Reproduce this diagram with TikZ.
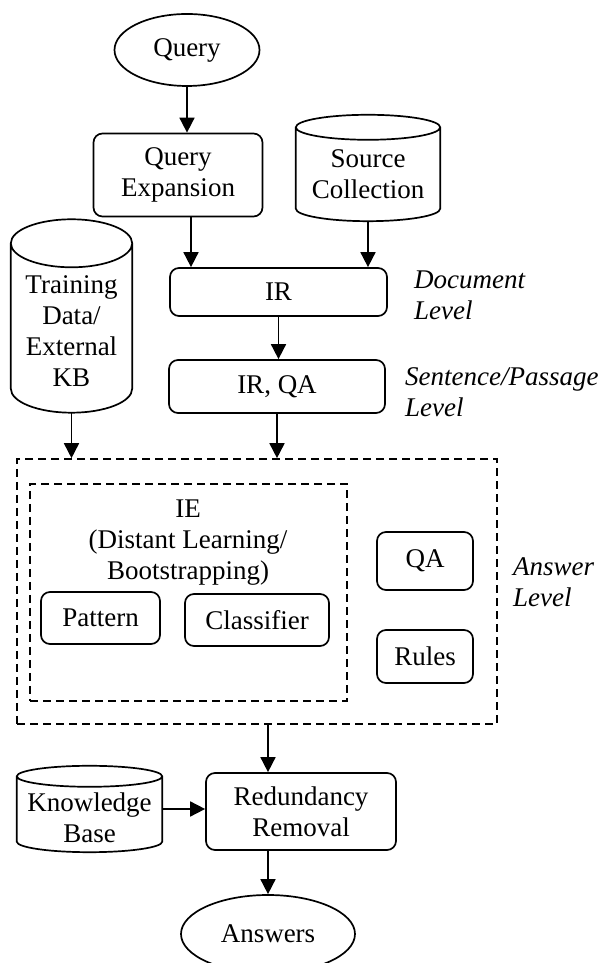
\documentclass[tikz,border=0pt]{standalone}
\usepackage{fontspec}
\setmainfont{Liberation Serif}
\usepackage{tikz}
\usetikzlibrary{arrows.meta,calc,shapes.geometric}

% outline of a data store round a named node: #1 node, #2 cap radius
\newcommand{\drawstore}[2]{%
  \draw[line width=1.7pt] let \p1=(#1.north west), \p2=(#1.south east), \n1={(\x2-\x1)/2} in
    ([yshift=-#2pt]#1.north) ellipse [x radius=\n1, y radius=#2pt]
    ([yshift=-#2pt]#1.north west) -- ([yshift=#2pt]#1.south west)
    arc [start angle=180, end angle=360, x radius=\n1, y radius=#2pt]
    -- ([yshift=-#2pt]#1.north east);}

\begin{document}
\begin{tikzpicture}[x=1pt, y=1pt,
    font=\fontsize{27}{31}\selectfont,
    every node/.style={align=center, inner sep=0pt},
    box/.style={draw, line width=1.7pt, rounded corners=9pt},
    oval/.style={draw, ellipse, line width=1.7pt},
    store/.style={rectangle},
    dashbox/.style={draw, line width=1.6pt, dash pattern=on 8pt off 5pt},
    lvl/.style={anchor=west, align=left, font=\fontsize{27}{31}\selectfont\itshape},
    arr/.style={line width=1.7pt, -{Triangle[width=15pt,length=15pt]}}]
    \useasboundingbox (0,0) rectangle (598,963);

    \node [oval, minimum width=145, minimum height=72] (query) at (187, 913) {Query};
    \node [box, minimum width=169, minimum height=83] (qexp) at (178, 788) {Query\\Expansion};
    \node [store, minimum width=144, minimum height=106] (src) at (368, 795) {};
    \node (src-txt) at ([yshift=-6]src) {Source\\Collection};
    \node [store, minimum width=121, minimum height=193] (train) at (71.5, 647) {};
    \node (train-txt) at ([yshift=-15.5]train) {Training\\Data/\\External\\KB};
    \node [box, minimum width=217, minimum height=48] (ir) at (278.5, 671) {IR};
    \node [box, minimum width=216, minimum height=53] (irqa) at (277, 576.5) {IR, QA};
    \node [lvl] (doc) at (414, 668) {Document\\Level};
    \node [lvl] (sent) at (405, 571) {Sentence/Passage\\Level};

    \node [dashbox, minimum width=480, minimum height=265] (outer) at (257, 371.5) {};
    \node [dashbox, minimum width=317, minimum height=217] (inner) at (188.5, 370.5) {};
    \node (ie) at (188, 420) {IE\\(Distant Learning/\\Bootstrapping)};
    \node [box, minimum width=119, minimum height=52] (pattern) at (100.5, 345) {Pattern};
    \node [box, minimum width=144, minimum height=52] (clf) at (257, 343) {Classifier};
    \node [box, minimum width=96, minimum height=58] (qa) at (425, 402) {QA};
    \node [box, minimum width=96, minimum height=53] (rules) at (425, 306.5) {Rules};
    \node [lvl] (answer) at (513, 381) {Answer\\Level};

    \node [box, minimum width=190, minimum height=77] (red) at (301, 151.5) {Redundancy\\Removal};
    \node [store, minimum width=145, minimum height=86] (kb) at (89.5, 154) {};
    \node (kb-txt) at ([yshift=-9]kb) {Knowledge\\Base};
    \node [oval, minimum width=174, minimum height=78] (answers) at (268, 29) {Answers};

    \drawstore{src}{12.5}
    \drawstore{train}{24}
    \drawstore{kb}{10.5}

    \draw [arr] (query.south) to (query.south |- qexp.north);
    \draw [arr] ([xshift=13]qexp.south) to ([xshift=13]qexp.south |- ir.north);
    \draw [arr] (src.south) to (src.south |- ir.north);
    \draw [arr] (ir.south) to (irqa.north -| ir.south);
    \draw [arr] (train.south) to (train.south |- outer.north);
    \draw [arr] (irqa.south) to (irqa.south |- outer.north);
    \draw [arr] (answers.north |- outer.south) to (answers.north |- red.north);
    \draw [arr] (kb.east) to (kb.east -| red.west);
    \draw [arr] (answers.north |- red.south) to (answers.north);
  \end{tikzpicture}
\end{document}
